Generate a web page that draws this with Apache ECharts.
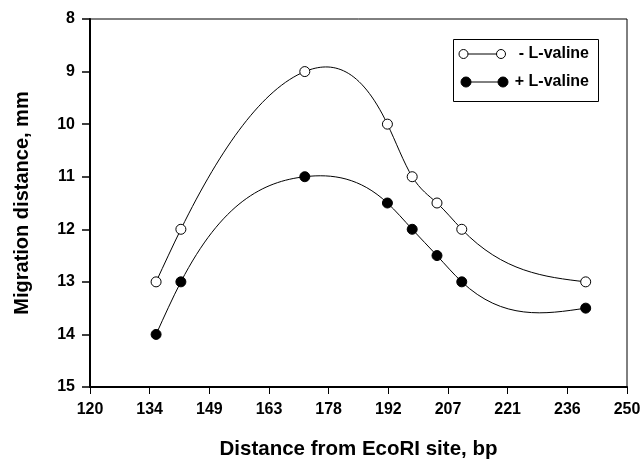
<!DOCTYPE html>
<html>
<head>
<meta charset="utf-8">
<script src="https://cdn.jsdelivr.net/npm/echarts@6/dist/echarts.min.js"></script>
<style>
html,body{margin:0;padding:0;background:#fff;}
#chart{width:642px;height:459px;}
</style>
</head>
<body>
<div id="chart"></div>
<script>
// ---- data ----
var distanceBp = [136, 142, 172, 192, 198, 204, 210, 240];
var minusValine = [13, 12, 9, 10, 11, 11.5, 12, 13];
var plusValine = [14, 13, 11, 11.5, 12, 12.5, 13, 13.5];
var xTickLabels = [120, 134, 149, 163, 178, 192, 207, 221, 236, 250];
var yTicks = [8, 9, 10, 11, 12, 13, 14, 15];
var seriesNames = ['- L-valine', '+ L-valine'];

var xMin = xTickLabels[0], xMax = xTickLabels[xTickLabels.length - 1];
var xTickPos = xTickLabels.map(function (_, i) {
  return xMin + i * (xMax - xMin) / (xTickLabels.length - 1);
});

function pairs(xs, ys) { return xs.map(function (x, i) { return [x, ys[i]]; }); }

// natural cubic spline second derivatives
function splineM(x, y) {
  var n = x.length, M = new Array(n).fill(0);
  if (n < 3) return M;
  var a = [], b = [], c = [], d = [];
  for (var i = 1; i < n - 1; i++) {
    var h0 = x[i] - x[i - 1], h1 = x[i + 1] - x[i];
    a.push(h0); b.push(2 * (h0 + h1)); c.push(h1);
    d.push(6 * ((y[i + 1] - y[i]) / h1 - (y[i] - y[i - 1]) / h0));
  }
  var m = b.length;
  for (var k = 1; k < m; k++) {
    var w = a[k] / b[k - 1];
    b[k] -= w * c[k - 1];
    d[k] -= w * d[k - 1];
  }
  var sol = new Array(m);
  sol[m - 1] = d[m - 1] / b[m - 1];
  for (var k2 = m - 2; k2 >= 0; k2--) sol[k2] = (d[k2] - c[k2] * sol[k2 + 1]) / b[k2];
  for (var j = 0; j < m; j++) M[j + 1] = sol[j];
  return M;
}

function splineRenderer(xs, ys) {
  var M = splineM(xs, ys);
  return function (params, api) {
    if (params.dataIndex !== 0) return null;
    var p0 = api.coord([xs[0], ys[0]]);
    var path = 'M' + p0[0] + ',' + p0[1];
    for (var i = 0; i < xs.length - 1; i++) {
      var h = xs[i + 1] - xs[i];
      var s = (ys[i + 1] - ys[i]) / h;
      var d0 = s - h * (2 * M[i] + M[i + 1]) / 6;
      var d1 = s + h * (M[i] + 2 * M[i + 1]) / 6;
      var c1 = api.coord([xs[i] + h / 3, ys[i] + d0 * h / 3]);
      var c2 = api.coord([xs[i + 1] - h / 3, ys[i + 1] - d1 * h / 3]);
      var e = api.coord([xs[i + 1], ys[i + 1]]);
      path += 'C' + c1[0] + ',' + c1[1] + ',' + c2[0] + ',' + c2[1] + ',' + e[0] + ',' + e[1];
    }
    return {
      type: 'path',
      shape: { pathData: path },
      style: { stroke: '#000', fill: null, lineWidth: 1 }
    };
  };
}

var FONT = '"Liberation Sans", Arial, sans-serif';
var chart = echarts.init(document.getElementById('chart'), null, { renderer: 'canvas' });

var option = {
  animation: false,
  backgroundColor: '#fff',
  grid: {
    left: 90, right: 15, top: 19, bottom: 72,
    containLabel: false, outerBoundsMode: 'none',
    show: true, borderColor: '#000', borderWidth: 1, backgroundColor: 'transparent'
  },
  xAxis: {
    type: 'value', min: xMin, max: xMax,
    name: 'Distance from EcoRI site, bp',
    nameLocation: 'middle', nameGap: 52,
    nameTextStyle: { fontFamily: FONT, fontWeight: 'bold', fontSize: 20.5, color: '#000' },
    axisLine: { show: true, onZero: false, lineStyle: { color: '#000', width: 2 } },
    axisTick: { show: true, length: 7, customValues: xTickPos, lineStyle: { color: '#000', width: 1 } },
    axisLabel: {
      customValues: xTickPos, margin: 15,
      fontFamily: FONT, fontWeight: 'bold', fontSize: 16, color: '#000',
      formatter: function (v) {
        var best = 0;
        for (var i = 1; i < xTickPos.length; i++) if (Math.abs(xTickPos[i] - v) < Math.abs(xTickPos[best] - v)) best = i;
        return String(xTickLabels[best]);
      }
    },
    splitLine: { show: false }
  },
  yAxis: {
    type: 'value', inverse: true,
    min: yTicks[0], max: yTicks[yTicks.length - 1], interval: 1,
    name: 'Migration distance, mm',
    nameLocation: 'middle', nameGap: 58, nameRotate: 90,
    nameTextStyle: { fontFamily: FONT, fontWeight: 'bold', fontSize: 20, color: '#000' },
    axisLine: { show: true, onZero: false, lineStyle: { color: '#000', width: 2 } },
    axisTick: { show: true, length: 8, lineStyle: { color: '#000', width: 1.5 } },
    axisLabel: { margin: 15, fontFamily: FONT, fontWeight: 'bold', fontSize: 16, color: '#000' },
    splitLine: { show: false }
  },
  series: [
    {
      type: 'custom', name: seriesNames[0] + ' curve',
      renderItem: splineRenderer(distanceBp, minusValine),
      data: pairs(distanceBp, minusValine), encode: { x: 0, y: 1 }, z: 2, silent: true
    },
    {
      type: 'custom', name: seriesNames[1] + ' curve',
      renderItem: splineRenderer(distanceBp, plusValine),
      data: pairs(distanceBp, plusValine), encode: { x: 0, y: 1 }, z: 2, silent: true
    },
    {
      type: 'scatter', name: seriesNames[0], data: pairs(distanceBp, minusValine),
      symbol: 'circle', symbolSize: 10, z: 5,
      itemStyle: { color: '#fff', borderColor: '#000', borderWidth: 1, opacity: 1 }
    },
    {
      type: 'scatter', name: seriesNames[1], data: pairs(distanceBp, plusValine),
      symbol: 'circle', symbolSize: 10, z: 5,
      itemStyle: { color: '#000', borderColor: '#000', borderWidth: 1, opacity: 1 }
    }
  ],
  graphic: [
    { type: 'rect', shape: { x: 453.5, y: 39.5, width: 145, height: 62 }, style: { fill: '#fff', stroke: '#000', lineWidth: 1 }, z: 10 },
    { type: 'line', shape: { x1: 463, y1: 54, x2: 501, y2: 54 }, style: { stroke: '#000', lineWidth: 1 }, z: 11 },
    { type: 'circle', shape: { cx: 463.5, cy: 54, r: 4.5 }, style: { fill: '#fff', stroke: '#000', lineWidth: 1 }, z: 12 },
    { type: 'circle', shape: { cx: 501, cy: 54, r: 4.5 }, style: { fill: '#fff', stroke: '#000', lineWidth: 1 }, z: 12 },
    { type: 'text', x: 589, y: 54, style: { text: seriesNames[0], fill: '#000', font: 'bold 16px ' + FONT, textAlign: 'right', textVerticalAlign: 'middle' }, z: 12 },
    { type: 'line', shape: { x1: 466, y1: 82, x2: 503, y2: 82 }, style: { stroke: '#000', lineWidth: 1 }, z: 11 },
    { type: 'circle', shape: { cx: 466, cy: 82, r: 5 }, style: { fill: '#000', stroke: '#000', lineWidth: 1 }, z: 12 },
    { type: 'circle', shape: { cx: 503, cy: 82, r: 5 }, style: { fill: '#000', stroke: '#000', lineWidth: 1 }, z: 12 },
    { type: 'text', x: 589, y: 82, style: { text: seriesNames[1], fill: '#000', font: 'bold 16px ' + FONT, textAlign: 'right', textVerticalAlign: 'middle' }, z: 12 }
  ]
};
chart.setOption(option);
</script>
</body>
</html>
